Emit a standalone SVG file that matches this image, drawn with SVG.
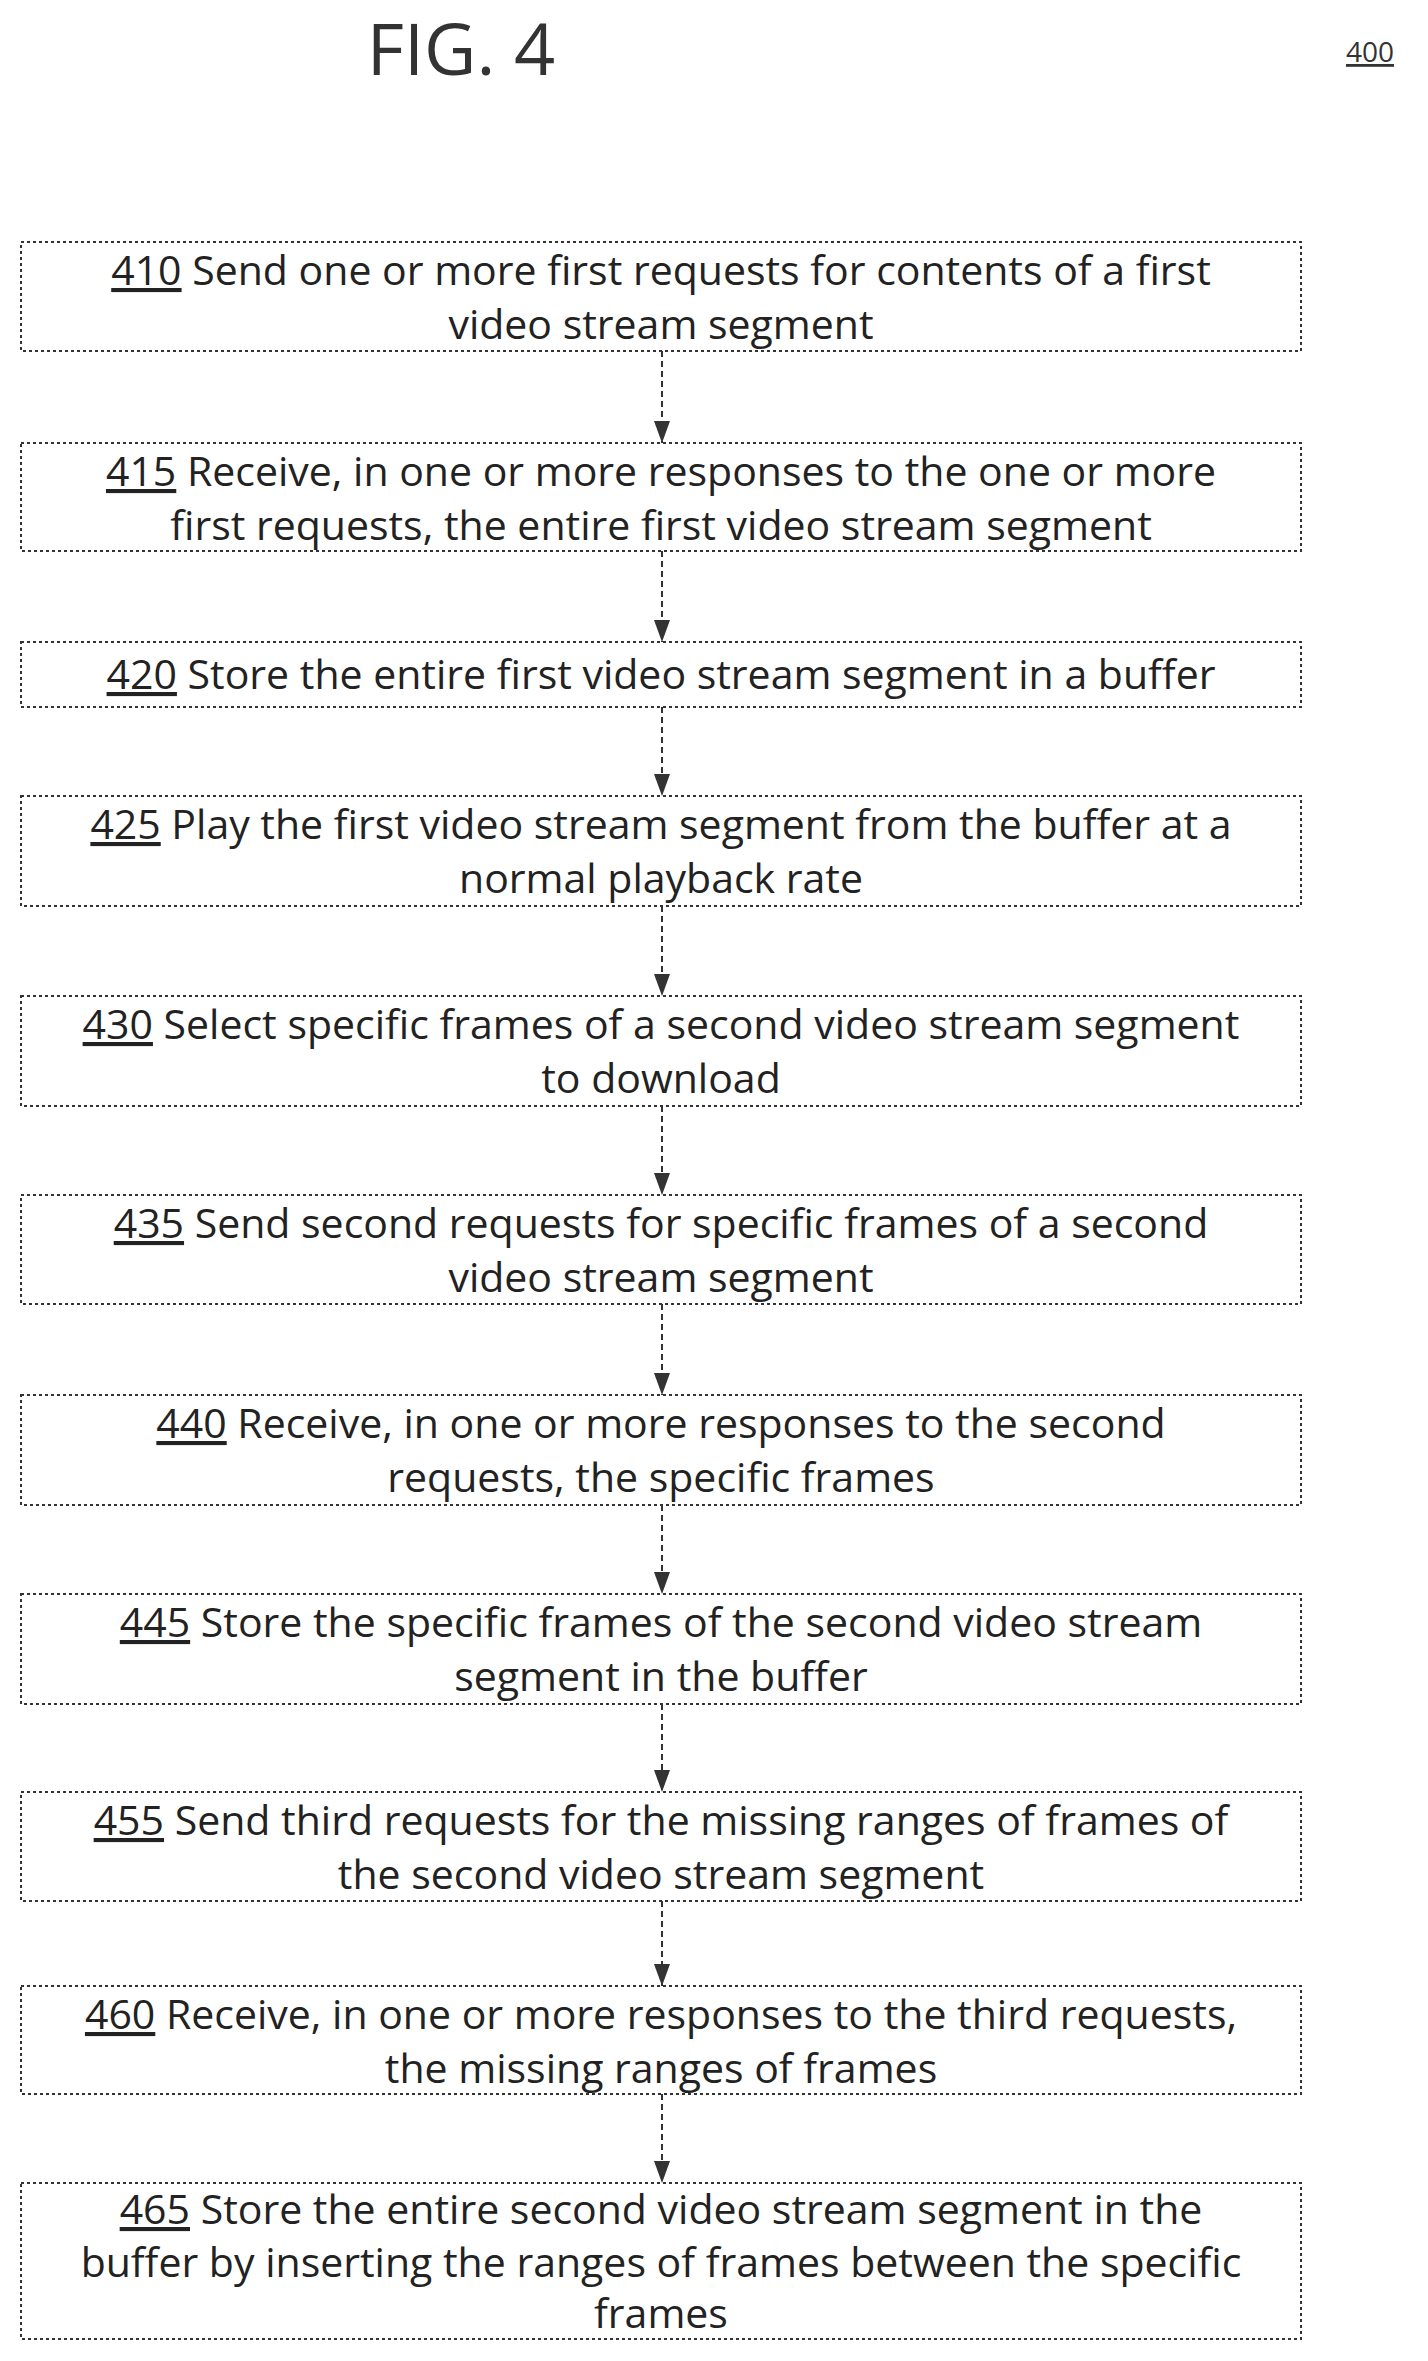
<svg xmlns="http://www.w3.org/2000/svg" width="1428" height="2361" viewBox="0 0 1428 2361">
<style>
.b{fill:#fff;stroke:#333;stroke-width:2;stroke-dasharray:3 3}
.t{font-family:"Open Sans","Liberation Sans",sans-serif;font-size:41px;fill:#222;text-anchor:middle}
.u{text-decoration:underline}
.c{stroke:#333;stroke-width:2;stroke-dasharray:6 4;fill:none}
</style>
<defs><marker id="a" markerWidth="22" markerHeight="16" refX="22" refY="8" orient="auto" markerUnits="userSpaceOnUse" viewBox="0 0 22 16"><path d="M0,0 L22,8 L0,16 Z" fill="#333"/></marker></defs>
<rect width="1428" height="2361" fill="#fff"/>
<text x="461" y="75" font-family="Open Sans,Liberation Sans,sans-serif" font-size="72" fill="#333" text-anchor="middle">FIG. 4</text>
<text x="1370" y="62" font-family="Open Sans,Liberation Sans,sans-serif" font-size="28" fill="#333" text-anchor="middle" text-decoration="underline">400</text>
<g id="n410"><rect class="b" x="21" y="242" width="1280" height="109"/><text class="t"><tspan x="661" y="285"><tspan class="u">410</tspan> Send one or more first requests for contents of a first</tspan><tspan x="661" y="339">video stream segment</tspan></text></g>
<g id="n415"><rect class="b" x="21" y="443" width="1280" height="108"/><text class="t"><tspan x="661" y="486"><tspan class="u">415</tspan> Receive, in one or more responses to the one or more</tspan><tspan x="661" y="540">first requests, the entire first video stream segment</tspan></text></g>
<g id="n420"><rect class="b" x="21" y="642" width="1280" height="65"/><text class="t" x="661" y="689"><tspan class="u">420</tspan> Store the entire first video stream segment in a buffer</text></g>
<g id="n425"><rect class="b" x="21" y="796" width="1280" height="110"/><text class="t"><tspan x="661" y="839"><tspan class="u">425</tspan> Play the first video stream segment from the buffer at a</tspan><tspan x="661" y="893">normal playback rate</tspan></text></g>
<g id="n430"><rect class="b" x="21" y="996" width="1280" height="110"/><text class="t"><tspan x="661" y="1039"><tspan class="u">430</tspan> Select specific frames of a second video stream segment</tspan><tspan x="661" y="1093">to download</tspan></text></g>
<g id="n435"><rect class="b" x="21" y="1195" width="1280" height="109"/><text class="t"><tspan x="661" y="1238"><tspan class="u">435</tspan> Send second requests for specific frames of a second</tspan><tspan x="661" y="1292">video stream segment</tspan></text></g>
<g id="n440"><rect class="b" x="21" y="1395" width="1280" height="110"/><text class="t"><tspan x="661" y="1438"><tspan class="u">440</tspan> Receive, in one or more responses to the second</tspan><tspan x="661" y="1492">requests, the specific frames</tspan></text></g>
<g id="n445"><rect class="b" x="21" y="1594" width="1280" height="110"/><text class="t"><tspan x="661" y="1637"><tspan class="u">445</tspan> Store the specific frames of the second video stream</tspan><tspan x="661" y="1691">segment in the buffer</tspan></text></g>
<g id="n455"><rect class="b" x="21" y="1792" width="1280" height="109"/><text class="t"><tspan x="661" y="1835"><tspan class="u">455</tspan> Send third requests for the missing ranges of frames of</tspan><tspan x="661" y="1889">the second video stream segment</tspan></text></g>
<g id="n460"><rect class="b" x="21" y="1986" width="1280" height="108"/><text class="t"><tspan x="661" y="2029"><tspan class="u">460</tspan> Receive, in one or more responses to the third requests,</tspan><tspan x="661" y="2083">the missing ranges of frames</tspan></text></g>
<g id="n465"><rect class="b" x="21" y="2183" width="1280" height="156"/><text class="t"><tspan x="661" y="2224"><tspan class="u">465</tspan> Store the entire second video stream segment in the</tspan><tspan x="661" y="2277">buffer by inserting the ranges of frames between the specific</tspan><tspan x="661" y="2328">frames</tspan></text></g>
<g id="connectors">
<line class="c" x1="662" y1="351" x2="662" y2="443" marker-end="url(#a)"/>
<line class="c" x1="662" y1="551" x2="662" y2="642" marker-end="url(#a)"/>
<line class="c" x1="662" y1="707" x2="662" y2="796" marker-end="url(#a)"/>
<line class="c" x1="662" y1="906" x2="662" y2="996" marker-end="url(#a)"/>
<line class="c" x1="662" y1="1106" x2="662" y2="1195" marker-end="url(#a)"/>
<line class="c" x1="662" y1="1304" x2="662" y2="1395" marker-end="url(#a)"/>
<line class="c" x1="662" y1="1505" x2="662" y2="1594" marker-end="url(#a)"/>
<line class="c" x1="662" y1="1704" x2="662" y2="1792" marker-end="url(#a)"/>
<line class="c" x1="662" y1="1901" x2="662" y2="1986" marker-end="url(#a)"/>
<line class="c" x1="662" y1="2094" x2="662" y2="2183" marker-end="url(#a)"/>
</g>
</svg>
